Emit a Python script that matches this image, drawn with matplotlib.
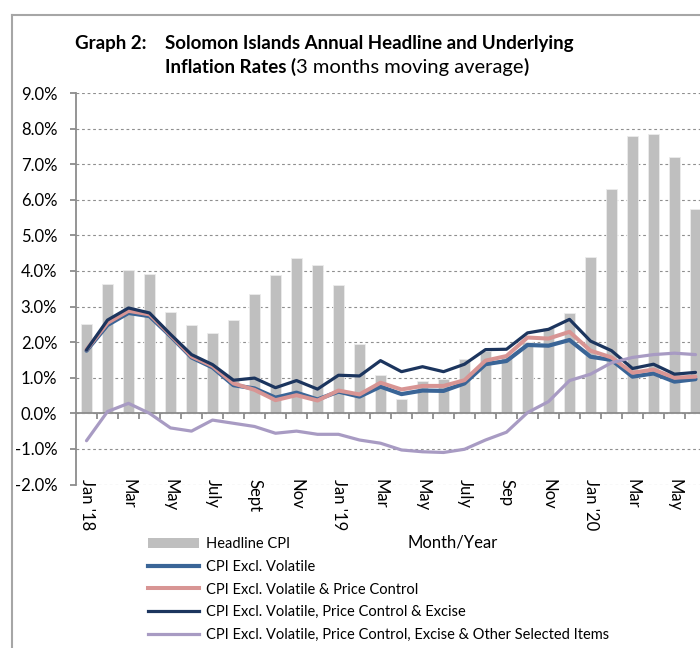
import matplotlib
matplotlib.use("Agg")
import matplotlib.pyplot as plt
from matplotlib.lines import Line2D
from matplotlib.patches import Patch
import numpy as np

plt.rcParams['font.family'] = ['Lato', 'DejaVu Sans']

# ---- data (Jan 2018 .. Jun 2020) ----
months = ["Jan '18", "Feb", "Mar", "Apr", "May", "Jun", "July", "Aug", "Sept", "Oct", "Nov", "Dec",
          "Jan '19", "Feb", "Mar", "Apr", "May", "Jun", "July", "Aug", "Sep", "Oct", "Nov", "Dec",
          "Jan '20", "Feb", "Mar", "Apr", "May", "Jun"]
headline = [2.50, 3.63, 4.02, 3.92, 2.84, 2.47, 2.25, 2.61, 3.36, 3.90, 4.37, 4.17,
            3.60, 1.95, 1.08, 0.39, 0.90, 0.96, 1.52, 1.75, 1.60, 2.00, 2.40, 2.81,
            4.40, 6.29, 7.80, 7.85, 7.19, 5.74]
excl_volatile = [1.76, 2.48, 2.82, 2.73, 2.17, 1.57, 1.29, 0.79, 0.70, 0.44, 0.58, 0.39,
                 0.61, 0.47, 0.75, 0.54, 0.64, 0.63, 0.84, 1.38, 1.47, 1.92, 1.90, 2.06,
                 1.59, 1.50, 1.03, 1.12, 0.89, 0.96]
excl_vol_pc = [1.79, 2.54, 2.88, 2.78, 2.20, 1.60, 1.33, 0.84, 0.66, 0.37, 0.51, 0.36,
               0.64, 0.53, 0.86, 0.67, 0.77, 0.77, 0.93, 1.48, 1.61, 2.13, 2.10, 2.29,
               1.76, 1.57, 1.14, 1.23, 1.00, 1.03]
excl_vol_pc_ex = [1.78, 2.62, 2.96, 2.82, 2.22, 1.65, 1.37, 0.93, 0.99, 0.72, 0.92, 0.68,
                  1.07, 1.05, 1.48, 1.17, 1.31, 1.17, 1.38, 1.79, 1.80, 2.26, 2.36, 2.64,
                  2.03, 1.76, 1.26, 1.38, 1.10, 1.15]
excl_all = [-0.77, 0.05, 0.28, 0.00, -0.41, -0.50, -0.19, -0.28, -0.37, -0.56, -0.50, -0.59,
            -0.59, -0.75, -0.84, -1.03, -1.08, -1.10, -1.01, -0.75, -0.53, 0.02, 0.33, 0.92,
            1.10, 1.42, 1.57, 1.65, 1.69, 1.65]
tick_labels = ["Jan '18", "Mar", "May", "July", "Sept", "Nov", "Jan '19", "Mar", "May",
               "July", "Sep", "Nov", "Jan '20", "Mar", "May"]
yticks = [-2, -1, 0, 1, 2, 3, 4, 5, 6, 7, 8, 9]

series_names = ["Headline CPI", "CPI Excl. Volatile", "CPI Excl. Volatile & Price Control",
                "CPI Excl. Volatile, Price Control & Excise",
                "CPI Excl. Volatile, Price Control, Excise & Other Selected Items"]

c_bar = '#bfbfbf'
c_blue = '#3a6597'
c_pink = '#d89594'
c_navy = '#1c355e'
c_purple = '#a89bc3'
c_axis = '#8c8c8c'

W, H = 700, 648
fig = plt.figure(figsize=(W / 100, H / 100), dpi=100)
ax = fig.add_axes([76 / W, (H - 484.5) / H, 630 / W, (484.5 - 93) / H])

x = np.arange(len(months))
ax.bar(x, headline, width=0.48, color=c_bar, edgecolor='#ececec', linewidth=0.6, zorder=2)
ax.plot(x, excl_volatile, color=c_blue, lw=3.0, zorder=3, solid_capstyle='round')
ax.plot(x, excl_vol_pc, color=c_pink, lw=2.9, zorder=4, solid_capstyle='round')
ax.plot(x, excl_vol_pc_ex, color=c_navy, lw=2.3, zorder=5, solid_capstyle='round')
ax.plot(x, excl_all, color=c_purple, lw=2.3, zorder=6, solid_capstyle='round')

ax.set_xlim(-0.5, len(months) - 0.5)
ax.set_ylim(-2, 9)
ax.set_yticks(yticks)
ax.set_yticklabels([f"{v:.1f}%" for v in yticks], fontsize=12)
ax.yaxis.grid(True, linestyle=(0, (2.5, 2.5)), color='#8f8f8f', linewidth=0.8, zorder=0)
ax.set_axisbelow(True)

for s in ['top', 'right']:
    ax.spines[s].set_visible(False)
ax.spines['left'].set_color(c_axis)
ax.spines['left'].set_linewidth(1.3)
ax.spines['bottom'].set_position(('data', 0))
ax.spines['bottom'].set_color(c_axis)
ax.spines['bottom'].set_linewidth(1.3)
ax.spines['bottom'].set_zorder(2.5)
ax.tick_params(axis='y', length=4.5, color=c_axis, width=1.3, pad=9)

ax.set_xticks(x[::2])
ax.set_xticklabels(tick_labels, rotation=-90, fontsize=12, va='top', ha='center')
ax.set_xticks(np.arange(0.5, len(months) - 0.5, 1), minor=True)
ax.tick_params(axis='x', which='major', length=0, pad=47)
ax.tick_params(axis='x', which='minor', length=4, color=c_axis, width=1.3, direction='out')

# title
tfs = 13.5
fig.text(75 / W, 1 - 43 / H, "Graph 2:", fontsize=tfs, fontweight='bold', va='center')
fig.text(165 / W, 1 - 43 / H, "Solomon Islands Annual Headline and Underlying",
         fontsize=tfs, fontweight='bold', va='center')
t2 = fig.text(165 / W, 1 - 67 / H, "Inflation Rates (", fontsize=tfs, fontweight='bold', va='center')
t3 = ax.annotate("3 months moving average", xy=(1, 0.5), xycoords=t2, va='center',
                 fontsize=14.5, annotation_clip=False)
ax.annotate(")", xy=(1, 0.5), xycoords=t3, va='center', fontsize=tfs, fontweight='bold',
            annotation_clip=False)

fig.text(453 / W, 1 - 542 / H, "Month/Year", fontsize=12, ha='center', va='center')

handles = [Patch(facecolor=c_bar, edgecolor='none'),
           Line2D([], [], color=c_blue, lw=3.0),
           Line2D([], [], color=c_pink, lw=2.9),
           Line2D([], [], color=c_navy, lw=2.3),
           Line2D([], [], color=c_purple, lw=2.3)]
fig.legend(handles, series_names, loc='upper left', bbox_to_anchor=(148 / W, 1 - 537 / H),
           frameon=False, fontsize=10.5, handlelength=3.5, handleheight=0.75,
           handletextpad=0.5, labelspacing=0.6, borderpad=0, borderaxespad=0)

# outer frame
fig.add_artist(Line2D([12 / W, 12 / W], [0, 1 - 15 / H], transform=fig.transFigure,
                      color='#a6a6a6', lw=1.5))
fig.add_artist(Line2D([12 / W, 1], [1 - 15 / H, 1 - 15 / H], transform=fig.transFigure,
                      color='#a6a6a6', lw=1.5))

fig.savefig("out.png", dpi=100)
